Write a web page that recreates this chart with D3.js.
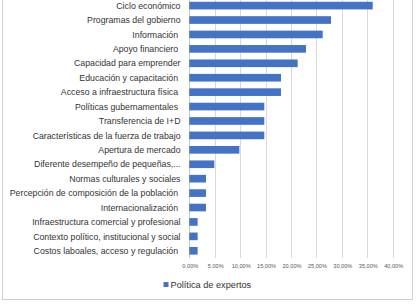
<!DOCTYPE html>
<html><head><meta charset="utf-8">
<script src="https://cdn.jsdelivr.net/npm/d3@7"></script>
<style>html,body{margin:0;padding:0;background:#fff;}svg{display:block;}</style>
</head><body>
<svg id="c" width="416" height="304"></svg>
<script>
const categories = [
  "Ciclo económico","Programas del gobierno","Información ","Apoyo financiero ",
  "Capacidad para emprender","Educación y capacitación ","Acceso a infraestructura física ",
  "Políticas gubernamentales ","Transferencia de I+D","Características de la fuerza de trabajo",
  "Apertura de mercado","Diferente desempeño de pequeñas,...","Normas culturales y sociales",
  "Percepción de composición de la población ","Internacionalización ",
  "Infraestructura comercial y profesional","Contexto político, institucional y social",
  "Costos laboales, acceso y regulación "
];
const values = [0.3607,0.2787,0.2623,0.2295,0.2131,0.1803,0.1803,0.1475,0.1475,0.1475,
  0.0984,0.0492,0.0328,0.0328,0.0328,0.0164,0.0164,0.0164];
const ticks = [0,0.05,0.10,0.15,0.20,0.25,0.30,0.35,0.40];
const seriesName = "Política de expertos";

(function(){
const svg = d3.select("#c");
const pLeft = 189.3, pRight = 392.7, pTop = -1.6, pBottom = 258;
const fontFam = "'Liberation Sans', Arial, sans-serif";
const textCol = "#333333";

svg.append("rect").attr("x",2.5).attr("y",-5).attr("width",410).attr("height",304.5)
  .attr("fill","none").attr("stroke","#d0d0d0").attr("stroke-width",1);

const x = d3.scaleLinear().domain([0,0.40]).range([pLeft,pRight]);
const y = d3.scaleBand().domain(categories).range([pTop,pBottom]).paddingInner(0.47).paddingOuter(0.235);

svg.append("g").selectAll("line").data(ticks).join("line")
  .attr("x1",d=>Math.round(x(d))+0.5).attr("x2",d=>Math.round(x(d))+0.5)
  .attr("y1",pTop).attr("y2",pBottom)
  .attr("stroke",d=>d===0?"#c8c8c8":"#d9d9d9").attr("stroke-width",1);

svg.append("g").selectAll("rect").data(values).join("rect")
  .attr("x",x(0)).attr("y",(d,i)=>y(categories[i]))
  .attr("width",d=>x(d)-x(0)).attr("height",y.bandwidth())
  .attr("fill","#4472C4");

svg.append("g").selectAll("text").data(categories).join("text")
  .attr("x",180.5).attr("y",d=>y(d)+y.bandwidth()/2)
  .attr("dy","0.36em").attr("text-anchor","end")
  .attr("font-family",fontFam).attr("font-size",8.75).attr("fill",textCol)
  .style("white-space","pre")
  .text(d=>d);

const fmt = v => (v*100).toFixed(2).replace(".",",")+"%";
svg.append("g").selectAll("text").data(ticks).join("text")
  .attr("x",d=>x(d)+1).attr("y",268)
  .attr("text-anchor","middle")
  .attr("font-family",fontFam).attr("font-size",5.6).attr("fill","#595959")
  .text(fmt);

svg.append("rect").attr("x",163.5).attr("y",282).attr("width",5).attr("height",5).attr("fill","#4472C4");
svg.append("text").attr("x",170.5).attr("y",287.6)
  .attr("font-family",fontFam).attr("font-size",9.2).attr("fill",textCol).text(seriesName);
})();
</script>
</body></html>
